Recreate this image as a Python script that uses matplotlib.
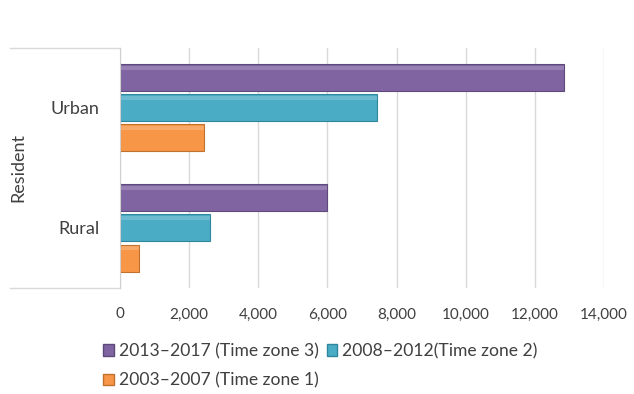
import numpy as np
import matplotlib.pyplot as plt
from matplotlib.patches import Patch
from matplotlib.lines import Line2D

categories = ["Rural", "Urban"]
series_labels = ["2013\u20132017 (Time zone 3)", "2008\u20132012(Time zone 2)", "2003\u20132007 (Time zone 1)"]
tz3 = [5990, 12830]
tz2 = [2600, 7420]
tz1 = [560, 2430]
xticks = [0, 2000, 4000, 6000, 8000, 10000, 12000, 14000]
xtick_labels = ["0", "2,000", "4,000", "6,000", "8,000", "10,000", "12,000", "14,000"]

colors = ["#8064A2", "#4BACC6", "#F79646"]
edges = ["#5E4A7A", "#31859C", "#C0712E"]

plt.rcParams['font.family'] = ['Lato', 'DejaVu Sans']

W, H = 634, 394
fig = plt.figure(figsize=(W / 100, H / 100), dpi=100)
ax = fig.add_axes([120 / W, 1 - 288 / H, (604 - 120) / W, (288 - 48) / H])

y = np.arange(len(categories))
h = 0.225
for vals, off, c, e in zip([tz3, tz2, tz1], [0.25, 0, -0.25], colors, edges):
    ax.barh(y + off, vals, height=h, color=c, edgecolor=e, linewidth=0.8, zorder=3)
    # light bevel along the top of each bar
    ax.barh(y + off + h * 0.38, vals, height=h * 0.16, color="white", alpha=0.18,
            linewidth=0, zorder=4)

ax.set_xlim(0, 14000)
ax.set_ylim(-0.5, 1.5)
ax.set_xticks(xticks)
ax.set_xticklabels(xtick_labels, fontsize=11, color="#404040")
ax.set_yticks(y)
ax.set_yticklabels(categories, fontsize=13, color="#404040")
ax.tick_params(axis='x', length=0, pad=14)
ax.tick_params(axis='y', length=0, pad=15)
ax.grid(axis='x', color="#D9D9D9", linewidth=1, zorder=0)
for s in ['top', 'right', 'bottom']:
    ax.spines[s].set_visible(False)
ax.spines['left'].set_color("#D0D0D0")
ax.spines['left'].set_zorder(5)

# bracket lines for the group label
x0 = (10 - 120) / (604 - 120)
for yy in [0, 1]:
    ax.add_line(Line2D([x0, 0], [yy, yy], transform=ax.transAxes, color="#D9D9D9",
                       linewidth=1, clip_on=False))

fig.text(18 / W, 1 - 168 / H, "Resident", rotation=90, ha='center', va='center',
         fontsize=13, color="#404040")

handles = [Patch(facecolor=c, edgecolor=e) for c, e in zip(colors, edges)]
order = [0, 2, 1]
leg = fig.legend([handles[i] for i in order], [series_labels[i] for i in order],
                 ncol=2, loc='upper left', bbox_to_anchor=(103 / W, 1 - 343 / H),
                 frameon=False, fontsize=12.6, handlelength=0.6, handleheight=0.6,
                 handletextpad=0.3, columnspacing=0.45, labelspacing=0.75,
                 borderpad=0, borderaxespad=0)
for t in leg.get_texts():
    t.set_color("#404040")

fig.savefig("out.png", dpi=100)
